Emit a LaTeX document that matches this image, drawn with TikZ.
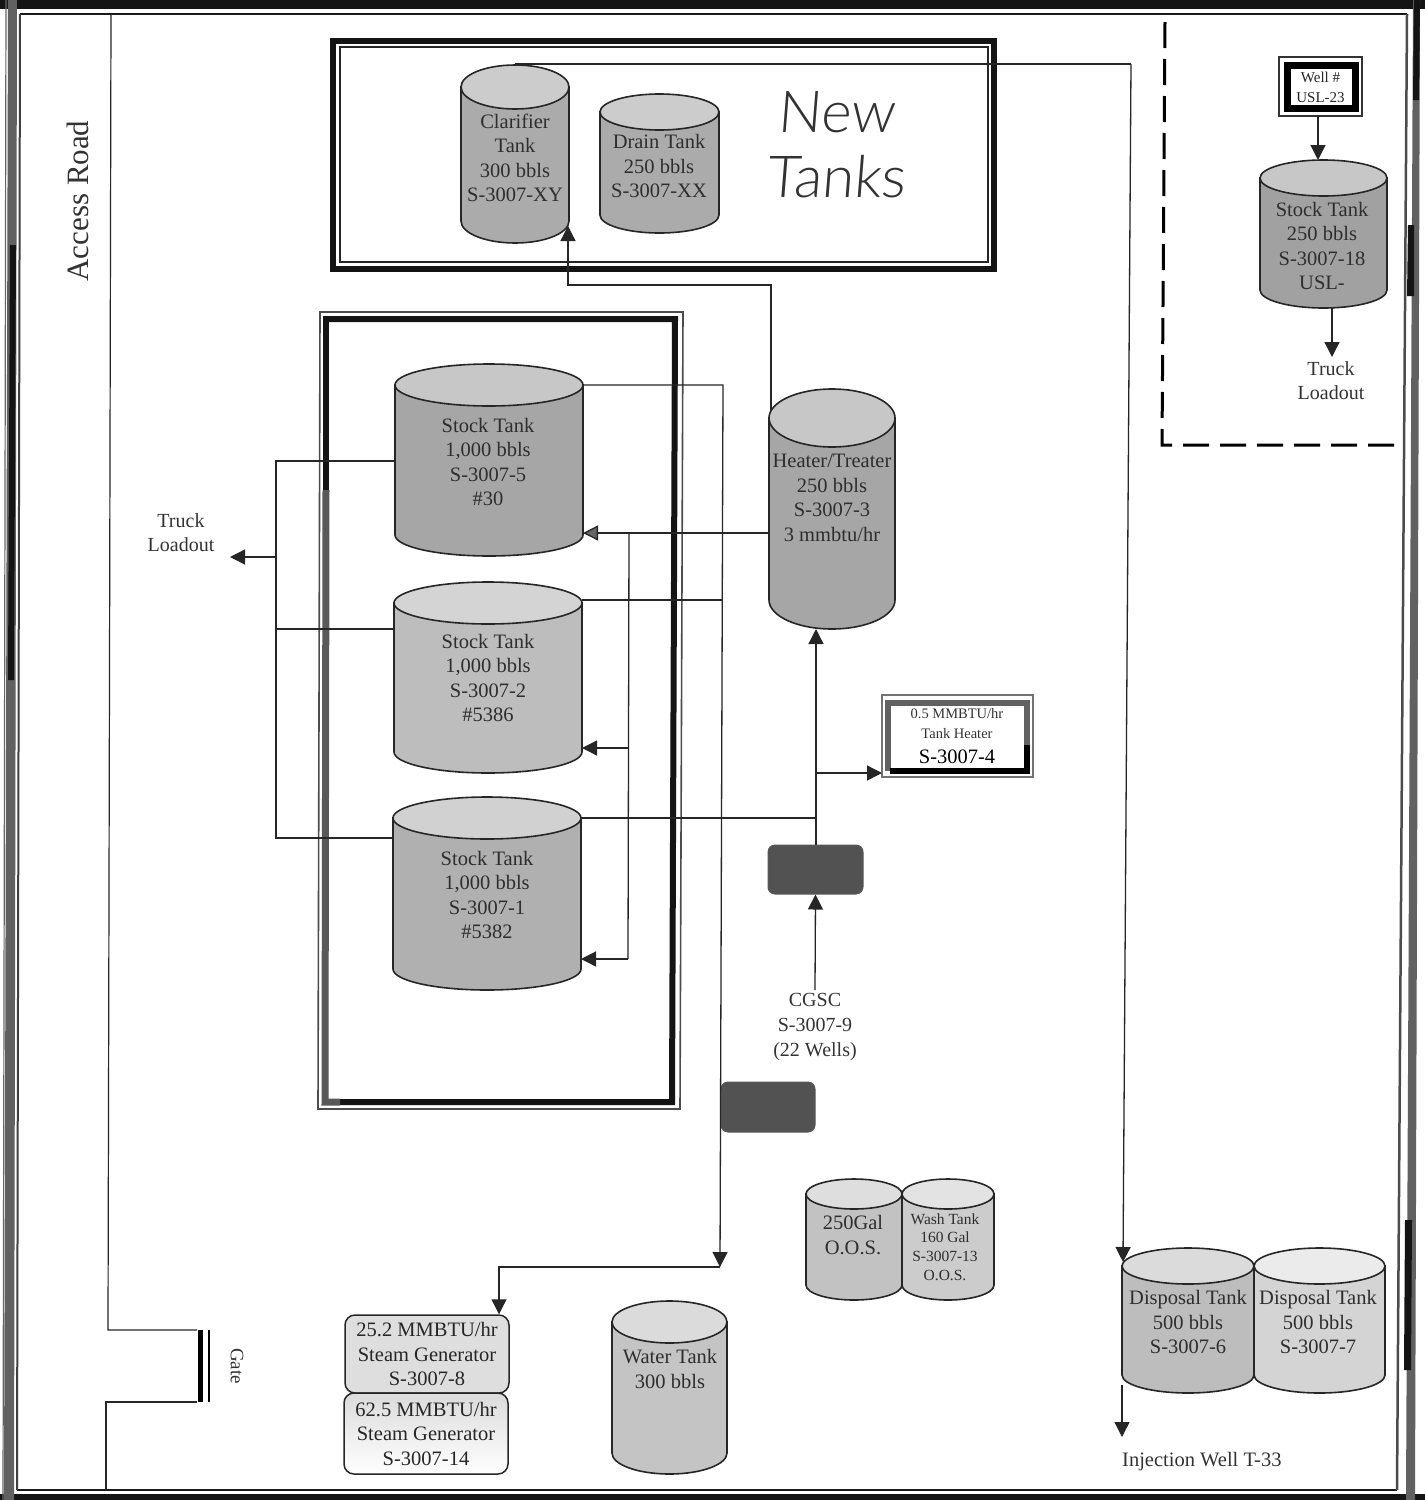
\documentclass[tikz,border=0pt]{standalone}
\usepackage{fontspec}
\usetikzlibrary{arrows.meta,calc}
\setmainfont{Liberation Serif}
\newfontfamily\handfont[FakeSlant=0.08]{Lato Light}
\tikzset{
  tankline/.style={draw=black!85,line width=1.6pt},
  lbl/.style={align=center,text=black!82,inner sep=0pt,font=\fontsize{20.5}{24.5}\selectfont},
  plain/.style={align=center,text=black!80,inner sep=0pt},
  pipe/.style={draw=black!85,line width=1.3pt},
  arrowpipe/.style={pipe,-{Triangle[length=15pt,width=15pt]}},
  darkbox/.style={draw=black!65,fill=black!68,rounded corners=7pt,inner sep=0pt,line width=1pt},
  genbox/.style={draw=black!85,line width=1.5pt,rounded corners=10pt,inner sep=0pt,align=center,text=black!85,font=\fontsize{20.5}{24.5}\selectfont}
}
\newcommand{\tank}[8]{%
  \pgfmathsetmacro\tcx{(#2+#3)/2}%
  \pgfmathsetmacro\trx{(#3-#2)/2}%
  \pgfmathsetmacro\tw{#3-#2}%
  \pgfmathsetmacro\th{#5-#4}%
  \pgfmathsetmacro\tcy{(#4+#5)/2}%
  \draw[tankline,fill=#7] (#2,#4+#6) -- (#2,#5-#6)
     arc[start angle=180,end angle=360,x radius=\trx pt,y radius=#6 pt]
     -- (#3,#4+#6) -- cycle;
  \draw[tankline,fill=#8] (\tcx,#4+#6) ellipse [x radius=\trx pt,y radius=#6 pt];
  \node[minimum width=\tw pt,minimum height=\th pt,inner sep=0pt,outer sep=0pt] (#1) at (\tcx,\tcy) {};
}
\begin{document}
\begin{tikzpicture}[x=1pt,y=-1pt]
\useasboundingbox (0,0) rectangle (1425,1500);
\fill[white] (0,0) rectangle (1425,1500);

% outer frame
\fill[black!92] (0,0) rectangle (1425,9);
\fill[black!92] (0,1494) rectangle (1425,1500);
\draw[black!90,line width=2.5pt] (20,14) -- (1407,14);
\draw[black!90,line width=2.5pt] (17,1490) -- (1397,1490);
\fill[black!62] (8,0) -- (17,0) -- (14,1500) -- (4,1500) -- cycle;
\fill[black!92] (10,245) -- (16,245) -- (14,680) -- (8,680) -- cycle;
\draw[black!75,line width=2pt] (20,14) -- (17,1490);
\draw[black!60,line width=1.2pt] (6,0) -- (3,1500);
\draw[black!70,line width=2.5pt] (1407,14) -- (1397,1490);
\fill[black!62] (1413,0) -- (1420,0) -- (1415,1500) -- (1406,1500) -- cycle;
\fill[black!92] (1414,0) -- (1420,0) -- (1419,100) -- (1413,100) -- cycle;
\fill[black!92] (1408,225) -- (1414,225) -- (1414,296) -- (1407,296) -- cycle;
\fill[black!92] (1405,1220) -- (1412,1220) -- (1411,1370) -- (1404,1370) -- cycle;

% road and gate
\draw[black!85,line width=1.2pt] (111,14) -- (108,1330) -- (197,1330);
\draw[black!85,line width=1.2pt] (106,1490) -- (106,1402) -- (197,1402);
\draw[black,line width=5pt] (200,1330) -- (200,1402);
\draw[black,line width=1.8pt] (209,1330) -- (209,1402);
\node[plain,rotate=90,font=\fontsize{31}{31}\selectfont] (road) at (78,201) {Access Road};
\node[plain,rotate=-90,font=\fontsize{19}{19}\selectfont] (gate) at (237,1366) {Gate};

% new tanks frame
\draw[black!92,line width=6pt] (333,41) rectangle (994,269);
\draw[black!85,line width=1.6pt] (340,47) rectangle (988,262);
\node[plain,font=\handfont\fontsize{58}{65}\selectfont] (newtanks) at (836,145) {New\\Tanks};

% stock frame
\draw[black!70,line width=1.6pt] (320,312) -- (683,312) -- (680,1109) -- (318,1109) -- cycle;
\draw[black!92,line width=6pt] (326,319) -- (675,319) -- (672,1102) -- (340,1102);
\draw[black!65,line width=7pt] (340,1102) -- (325,1102) -- (326,490);
\draw[black!92,line width=6pt] (326,490) -- (326,316);

% dashed enclosure
\draw[black,line width=3pt,dash pattern=on 26pt off 11pt] (1165,22) -- (1162,445) -- (1399,445);

% junction coordinates
\coordinate (jclar) at (1131,64);
\coordinate (jdisp) at (1123,1262);
\coordinate (jinj) at (1122,1437);
\coordinate (jclara) at (568,226);
\coordinate (jh1) at (568,285);
\coordinate (jh2) at (771,285);
\coordinate (jhtop) at (771,411);
\coordinate (ja5) at (723,385);
\coordinate (ja2) at (722,600);
\coordinate (ja1) at (721,818);
\coordinate (jturn) at (720,1267);
\coordinate (jgen) at (499,1267);
\coordinate (jh5) at (770,533);
\coordinate (jsplit) at (629,533);
\coordinate (jin2) at (629,748);
\coordinate (jin1) at (628,959);
\coordinate (jload) at (276,557);
\coordinate (jl5) at (276,461);
\coordinate (jl2) at (275,629);
\coordinate (jl1) at (276,838);
\coordinate (jloadtip) at (230,557);
\coordinate (jcgsc) at (815,990);
\coordinate (jbranch) at (816,818);
\coordinate (jheat) at (816,773);
\coordinate (jwell) at (1318,160);
\coordinate (jtruck) at (1332,357);

% tanks
\tank{clar}{461}{569}{65}{243}{22}{black!33}{black!20}
\tank{drain}{600}{719}{94}{233}{18}{black!33}{black!20}
\tank{stfive}{395}{583}{364}{556}{21}{black!35}{black!22}
\tank{sttwo}{394}{582}{582}{773}{21}{black!26}{black!17}
\tank{stone}{393}{581}{797}{990}{21}{black!31}{black!18}
\tank{heater}{769}{895}{389}{629}{29}{black!35}{black!22}
\tank{usl}{1260}{1387}{160}{308}{18}{black!37}{black!22}
\tank{oos}{806}{902}{1179}{1300}{15}{black!24}{black!13}
\tank{wash}{902}{994}{1179}{1300}{15}{black!20}{black!11}
\tank{dispsix}{1122}{1254}{1248}{1393}{18}{black!26}{black!14}
\tank{dispsev}{1254}{1385}{1248}{1393}{18}{black!17}{black!8}
\tank{water}{612}{727}{1301}{1474}{21}{black!23}{black!14}

% tank labels
\node[lbl] (tclar) at (515,158) {Clarifier\\Tank\\300 bbls\\S-3007-XY};
\node[lbl] (tdrain) at (659,166) {Drain Tank\\250 bbls\\S-3007-XX};
\node[lbl] (tfive) at (488,462) {Stock Tank\\1,000 bbls\\S-3007-5\\\#30};
\node[lbl] (ttwo) at (488,678) {Stock Tank\\1,000 bbls\\S-3007-2\\\#5386};
\node[lbl] (tone) at (487,895) {Stock Tank\\1,000 bbls\\S-3007-1\\\#5382};
\node[lbl] (theat) at (832,498) {Heater/Treater\\250 bbls\\S-3007-3\\3 mmbtu/hr};
\node[lbl] (tusl) at (1322,246) {Stock Tank\\250 bbls\\S-3007-18\\USL-};
\node[lbl] (toos) at (853,1235) {250Gal\\O.O.S.};
\node[lbl,font=\fontsize{15.5}{18.8}\selectfont] (twash) at (945,1247) {Wash Tank\\160 Gal\\S-3007-13\\O.O.S.};
\node[lbl] (tsix) at (1188,1322) {Disposal Tank\\500 bbls\\S-3007-6};
\node[lbl] (tsev) at (1318,1322) {Disposal Tank\\500 bbls\\S-3007-7};
\node[lbl] (twater) at (670,1369) {Water Tank\\300 bbls};

% dark boxes
\node[darkbox,minimum width=95pt,minimum height=49pt] (boxa) at (815.5,869.5) {};
\node[darkbox,minimum width=94pt,minimum height=50pt] (boxb) at (768,1107) {};

% heater box
\draw[black!55,line width=1.4pt] (882,695) rectangle (1033,777);
\draw[black!62,line width=6pt] (888,771) -- (888,703) -- (1027,703) -- (1027,745);
\draw[black,line width=6pt] (1027,745) -- (1027,771) -- (890,771);
\node[plain,font=\fontsize{14.5}{20}\selectfont] (theater) at (957,724) {0.5 MMBTU/hr\\Tank Heater};
\node[plain,font=\fontsize{20.5}{20.5}\selectfont,text=black] (sheater) at (957,757) {S-3007-4};
\coordinate (heaterin) at (882,773);

% well box
\draw[black!80,line width=1.4pt] (1279,57) rectangle (1362,116);
\draw[black,line width=7pt] (1287,65) rectangle (1355,108);
\node[plain,font=\fontsize{15}{20}\selectfont,text=black!85] (well) at (1320.5,87) {Well \#\\USL-23};
\coordinate (wellout) at (1318,116);

% generators
\node[genbox,fill=black!13,minimum width=164pt,minimum height=78pt] (gena) at (427,1354) {25.2 MMBTU/hr\\Steam Generator\\S-3007-8};
\node[genbox,top color=black!14,bottom color=white,minimum width=164pt,minimum height=81pt] (genb) at (426,1433.5) {62.5 MMBTU/hr\\Steam Generator\\S-3007-14};

% free labels
\node[plain,font=\fontsize{20}{24}\selectfont] (truckl) at (181,533) {Truck\\Loadout};
\node[plain,font=\fontsize{20}{24}\selectfont] (truckr) at (1331,381) {Truck\\Loadout};
\node[plain,font=\fontsize{20}{25}\selectfont] (cgsc) at (815,1027) {CGSC\\S-3007-9\\(22 Wells)};
\node[plain,font=\fontsize{20.5}{20.5}\selectfont,anchor=west] (inj) at (1122,1462) {Injection Well T-33};

% connectors
\draw[pipe] (clar.north |- jclar) -- (jclar);
\draw[arrowpipe] (jclar) -- (jdisp);
\draw[arrowpipe] (dispsix.south west) ++(0,-8) -- (jinj);
\draw[arrowpipe] (jhtop) -- (jh2) -- (jh1) -- (jclara);
\draw[arrowpipe] (stfive.east |- ja5) -- (ja5) -- (jturn);
\draw[pipe] (sttwo.east |- ja2) -- (ja2);
\draw[pipe] (stone.east |- ja1) -- (jbranch);
\draw[arrowpipe] (jturn) -- (jgen) -- (jgen |- gena.north);
\draw[arrowpipe,-{Triangle[length=15pt,width=15pt,fill=black!60]}] (heater.west |- jh5) -- (stfive.east |- jh5);
\draw[pipe] (jsplit) -- (jin1);
\draw[arrowpipe] (jin2) -- (sttwo.east |- jin2);
\draw[arrowpipe] (jin1) -- (stone.east |- jin1);
\draw[pipe] (stfive.west |- jl5) -- (jl5) -- (jl1) -- (stone.west |- jl1);
\draw[pipe] (jl2) -- (sttwo.west |- jl2);
\draw[arrowpipe] (jload) -- (jloadtip);
\draw[arrowpipe] (jbranch |- boxa.north) -- (jheat) -- (jheat |- heater.south);
\draw[arrowpipe] (jheat) -- (heaterin);
\draw[arrowpipe] (jcgsc) -- (boxa.south);
\draw[arrowpipe] (wellout) -- (jwell);
\draw[arrowpipe] (usl.south -| jtruck) -- (jtruck);
\end{tikzpicture}
\end{document}
